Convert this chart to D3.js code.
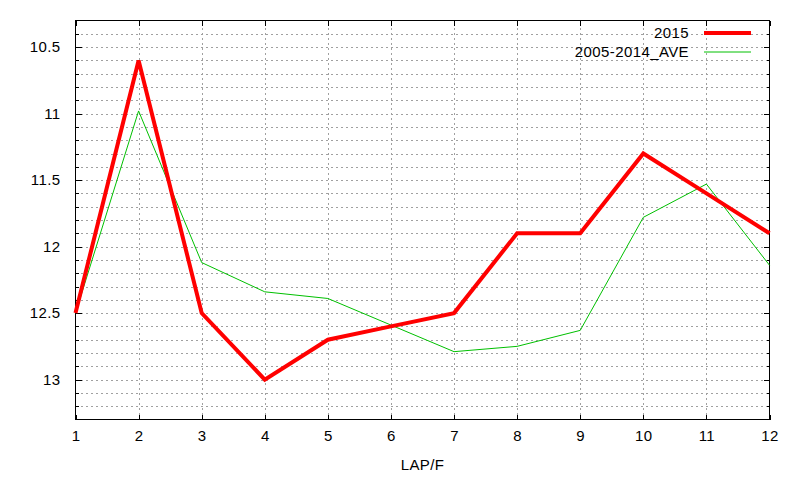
<!DOCTYPE html>
<html lang="en">
<head>
    <meta charset="UTF-8">
    <title>LAP/F</title>
    <script src="https://d3js.org/d3.v7.min.js"></script>
</head>

<style>
    body {
        margin: 0;
        padding: 0;
        background: #ffffff;
    }

    svg {
        display: block;
        font-family: 'Liberation Sans', Arial, sans-serif;
    }

    svg text {
        letter-spacing: 0.4px;
    }

    .grid line {
        stroke: #a0a0a0;
        stroke-width: 1px;
        stroke-dasharray: 2, 3;
    }

    .tick line {
        shape-rendering: crispEdges;
    }
</style>

<body>
<div class="chart-container"></div>

<script>
  /** DATA */
  var laps = [1, 2, 3, 4, 5, 6, 7, 8, 9, 10, 11, 12];
  var values2015 = [12.5, 10.6, 12.5, 13.0, 12.7, 12.6, 12.5, 11.9, 11.9, 11.3, 11.6, 11.9];
  var valuesAve = [12.5, 10.98, 12.12, 12.34, 12.39, 12.59, 12.79, 12.75, 12.63, 11.78, 11.53, 12.14];
  var yTickValues = [10.5, 11, 11.5, 12, 12.5, 13];
  var seriesNames = ['2015', '2005-2014_AVE'];
  var xLabel = 'LAP/F';

  /** LAYOUT */
  var width = 800;
  var height = 480;
  var plotLeft = 75.5;
  var plotRight = 769.5;
  var plotTop = 20.5;
  var plotBottom = 419.5;

  var svg_selection = d3.select('.chart-container')
    .append('svg')
    .attr('width', width)
    .attr('height', height);

  /** y axis is reversed: small values at the top */
  var xScale = d3.scaleLinear().domain([1, 12]).range([plotLeft, plotRight]);
  var yScale = d3.scaleLinear().domain([10.3, 13.3]).range([plotTop, plotBottom]);

  var minorY = d3.range(104, 133).map(function (d) { return d / 10; });
  var minorYTicks = minorY.filter(function (d) { return yTickValues.indexOf(d) < 0; });

  buildGrid();
  buildAxes();
  buildLines();
  buildLegend();

  /** FUNCTIONS **/
  function buildGrid() {
    /** horizontal dotted lines on every 0.1 */
    svg_selection.append('g')
      .attr('class', 'grid')
      .attr('transform', 'translate(' + plotLeft + ',0)')
      .call(d3.axisLeft(yScale)
        .tickValues(minorY)
        .tickSize(-(plotRight - plotLeft))
        .tickFormat(''))
      .call(function (g) { g.select('.domain').remove(); });

    /** vertical dotted lines on every lap */
    svg_selection.append('g')
      .attr('class', 'grid')
      .attr('transform', 'translate(0,' + plotBottom + ')')
      .call(d3.axisBottom(xScale)
        .tickValues(laps.slice(1, -1))
        .tickSize(-(plotBottom - plotTop))
        .tickFormat(''))
      .call(function (g) { g.select('.domain').remove(); });
  }

  function buildAxes() {
    var fontSize = 15;

    /** left axis with labels, ticks pointing inward */
    var left_selection = svg_selection.append('g')
      .attr('transform', 'translate(' + plotLeft + ',0)')
      .call(d3.axisLeft(yScale)
        .tickValues(yTickValues)
        .tickSizeInner(-6)
        .tickSizeOuter(0)
        .tickPadding(15)
        .tickFormat(d3.format('')));
    left_selection.select('.domain').remove();
    left_selection.selectAll('text')
      .attr('font-size', fontSize)
      .attr('font-family', null)
      .attr('fill', '#000');

    svg_selection.append('g')
      .attr('transform', 'translate(' + plotLeft + ',0)')
      .call(d3.axisLeft(yScale).tickValues(minorYTicks).tickSizeInner(-3).tickSizeOuter(0).tickFormat(''))
      .call(function (g) { g.select('.domain').remove(); });

    /** right mirror ticks */
    svg_selection.append('g')
      .attr('transform', 'translate(' + plotRight + ',0)')
      .call(d3.axisRight(yScale).tickValues(yTickValues).tickSizeInner(-6).tickSizeOuter(0).tickFormat(''))
      .call(function (g) { g.select('.domain').remove(); });
    svg_selection.append('g')
      .attr('transform', 'translate(' + plotRight + ',0)')
      .call(d3.axisRight(yScale).tickValues(minorYTicks).tickSizeInner(-3).tickSizeOuter(0).tickFormat(''))
      .call(function (g) { g.select('.domain').remove(); });

    /** bottom axis with labels */
    var bottom_selection = svg_selection.append('g')
      .attr('transform', 'translate(0,' + plotBottom + ')')
      .call(d3.axisBottom(xScale)
        .tickValues(laps)
        .tickSizeInner(-5)
        .tickSizeOuter(0)
        .tickPadding(11)
        .tickFormat(d3.format('d')));
    bottom_selection.select('.domain').remove();
    bottom_selection.selectAll('text')
      .attr('font-size', fontSize)
      .attr('font-family', null)
      .attr('fill', '#000');

    /** top mirror ticks */
    svg_selection.append('g')
      .attr('transform', 'translate(0,' + plotTop + ')')
      .call(d3.axisTop(xScale).tickValues(laps).tickSizeInner(-5).tickSizeOuter(0).tickFormat(''))
      .call(function (g) { g.select('.domain').remove(); });

    /** frame */
    svg_selection.append('rect')
      .attr('x', plotLeft)
      .attr('y', plotTop)
      .attr('width', plotRight - plotLeft)
      .attr('height', plotBottom - plotTop)
      .attr('fill', 'none')
      .attr('stroke', '#000')
      .attr('stroke-width', 1)
      .attr('shape-rendering', 'crispEdges');

    svg_selection.append('text')
      .attr('x', (plotLeft + plotRight) / 2)
      .attr('y', 470)
      .attr('text-anchor', 'middle')
      .attr('font-size', fontSize)
      .text(xLabel);
  }

  function buildLines() {
    var line = d3.line()
      .x(function (d) { return xScale(d[0]); })
      .y(function (d) { return yScale(d[1]); });

    svg_selection.append('path')
      .datum(d3.zip(laps, valuesAve))
      .attr('d', line)
      .attr('fill', 'none')
      .attr('stroke', '#00c000')
      .attr('stroke-width', 1);

    svg_selection.append('path')
      .datum(d3.zip(laps, values2015))
      .attr('d', line)
      .attr('fill', 'none')
      .attr('stroke', '#ff0000')
      .attr('stroke-width', 4)
      .attr('stroke-linejoin', 'miter');
  }

  function buildLegend() {
    var legendTextRightX = 689;
    var sampleLeftX = 704;
    var sampleRightX = 751;
    var firstRowY = 33;
    var rowStepY = 19;
    var colors = ['#ff0000', '#00c000'];
    var widths = [4, 1];

    var legendItem_selection = svg_selection.append('g')
      .selectAll('g')
      .data(seriesNames)
      .enter().append('g')
      .attr('transform', function (_, index) {
        return 'translate(0,' + (firstRowY + rowStepY * index) + ')';
      });

    legendItem_selection.append('text')
      .attr('x', legendTextRightX)
      .attr('dy', '0.35em')
      .attr('text-anchor', 'end')
      .attr('font-size', 15)
      .text(function (d) { return d; });

    legendItem_selection.append('line')
      .attr('x1', sampleLeftX)
      .attr('x2', sampleRightX)
      .attr('stroke', function (_, i) { return colors[i]; })
      .attr('stroke-width', function (_, i) { return widths[i]; });
  }
</script>
</body>
</html>
